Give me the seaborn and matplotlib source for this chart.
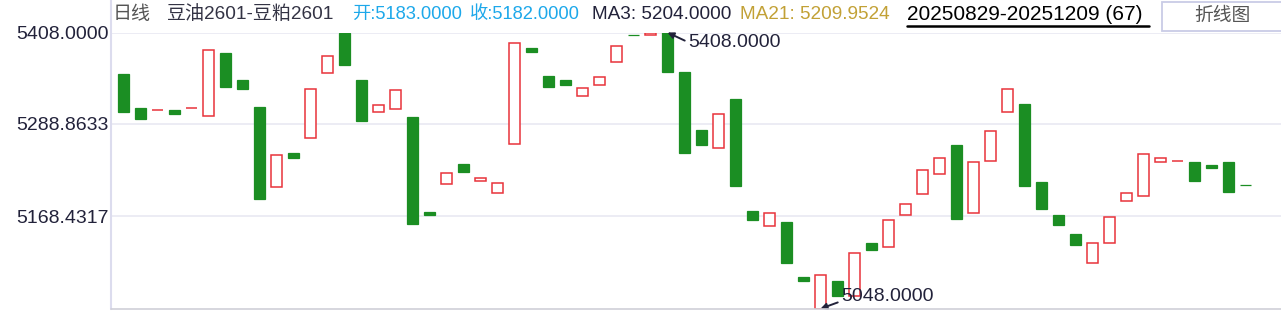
import matplotlib
matplotlib.use("Agg")
import matplotlib.pyplot as plt
import seaborn as sns
import numpy as np
from matplotlib.lines import Line2D
from matplotlib.patches import Rectangle

# ---------------- data ----------------
opens = [5354, 5309, 5307, 5307, 5309, 5299, 5381, 5346, 5311, 5206,
         5251, 5271, 5355, 5407, 5346, 5305, 5308, 5298, 5174, 5210,
         5236, 5214, 5199, 5263, 5388, 5351, 5346, 5325, 5339, 5369,
         5405, 5405, 5408, 5356, 5281, 5257, 5321, 5175, 5156, 5161,
         5089, 5048, 5084, 5065, 5134, 5128, 5170, 5197, 5223, 5261,
         5173, 5241, 5305, 5315, 5213, 5170, 5146, 5108, 5134, 5188,
         5195, 5239, 5240, 5239, 5235, 5239, 5209]
closes = [5305, 5295, 5307, 5302, 5309, 5385, 5337, 5335, 5191, 5248,
          5245, 5335, 5378, 5366, 5293, 5314, 5333, 5158, 5170, 5225,
          5226, 5218, 5212, 5394, 5382, 5337, 5340, 5336, 5350, 5390,
          5405, 5407, 5356, 5251, 5262, 5302, 5208, 5163, 5173, 5107,
          5084, 5092, 5064, 5120, 5125, 5164, 5184, 5229, 5245, 5165,
          5239, 5279, 5335, 5208, 5178, 5157, 5131, 5134, 5168, 5199,
          5249, 5244, 5240, 5215, 5231, 5200, 5209]
# red (rising / doji-red) vs green (falling / doji-green) as drawn
is_red = [False, False, True, False, True, True, False, False, False, True,
          False, True, True, False, False, True, True, False, False, True,
          False, True, True, True, False, False, False, True, True, True,
          False, True, False, False, False, True, False, False, True, False,
          False, True, False, True, False, True, True, True, True, False,
          True, True, True, False, False, False, False, True, True, True,
          True, True, True, False, False, False, False]
ytick_values = [5408.0, 5288.8633, 5168.4317]
y_min, y_max = 5048.0, 5408.0
high_idx, high_val = 32, 5408.0
low_idx, low_val = 41, 5048.0

title_name = "豆油2601-豆粕2601"
open_txt = "开:5183.0000"
close_txt = "收:5182.0000"
ma3_txt = "MA3: 5204.0000"
ma21_txt = "MA21: 5209.9524"
range_txt = "20250829-20251209 (67)"

# ---------------- style ----------------
sns.set_theme(style="white")
FAM = ["Liberation Sans", "Noto Sans CJK SC", "DejaVu Sans"]
plt.rcParams["font.family"] = FAM

W, H = 1281, 312
RED = "#e8333b"
GREEN = "#1b8e23"
GRID = "#e7e7f1"
DARK = "#22223a"

def fx(x):
    return x / W

def fy(y):
    return 1 - y / H

fig = plt.figure(figsize=(W / 100, H / 100), dpi=100)
fig.patch.set_facecolor("white")
ax_left, ax_right, ax_top, ax_bot = 111, 1281, 32.5, 308.7
ax = fig.add_axes([fx(ax_left), fy(ax_bot), (ax_right - ax_left) / W, (ax_bot - ax_top) / H])
ax.set_facecolor("white")

n = len(opens)
idx = np.arange(n)
o = np.array(opens, float)
c = np.array(closes, float)
bottoms = np.minimum(o, c)
heights = np.abs(c - o)
red = np.array(is_red)

# horizontal grid
for v in ytick_values:
    ax.axhline(v, color=GRID, lw=1.1, zorder=0)

bw = 0.70
ax.bar(idx[~red], heights[~red], bottom=bottoms[~red], width=bw,
       color=GREEN, edgecolor=GREEN, linewidth=0.9, zorder=3)
ax.bar(idx[red], heights[red], bottom=bottoms[red], width=bw,
       facecolor="white", edgecolor=RED, linewidth=1.1, zorder=3)

px_per_unit = 17.0
xmin = -(123.5 - ax_left) / px_per_unit
xmax = xmin + (ax_right - ax_left) / px_per_unit
ax.set_xlim(xmin, xmax)
ax.set_ylim(y_min, y_max)
ax.set_xticks([])
ax.set_yticks(ytick_values)
ax.set_yticklabels([f"{v:.4f}" for v in ytick_values])
ax.tick_params(axis="y", length=0, pad=1.5, labelsize=14.0, labelcolor=DARK)
for s in ax.spines.values():
    s.set_visible(False)

# annotations for high / low
units_per_px = (y_max - y_min) / (ax_bot - ax_top)
def xv(px):
    return xmin + (px - ax_left) / px_per_unit
def yv(py):
    return y_max - (py - ax_top) * units_per_px

arrow_kw = dict(arrowstyle="-|>", color=DARK, lw=1.4, mutation_scale=9,
                shrinkA=0, shrinkB=0)
ax.annotate(f"{high_val:.4f}", xy=(high_idx, high_val), xytext=(xv(688), yv(43)),
            ha="left", va="center", fontsize=14.0, color=DARK,
            arrowprops=dict(relpos=(0, 0.55), **arrow_kw), annotation_clip=False, zorder=6)
ax.annotate(f"{low_val:.4f}", xy=(low_idx, low_val), xytext=(xv(841), yv(297)),
            ha="left", va="center", fontsize=14.0, color=DARK,
            arrowprops=dict(relpos=(0, 0.25), **arrow_kw), annotation_clip=False, zorder=6)

# frame lines
fig.add_artist(Line2D([fx(111), fx(111)], [fy(0), fy(309)], color="#dcdcee", lw=1.5))
fig.add_artist(Line2D([fx(111), fx(1281)], [fy(309), fy(309)], color="#cfcfd8", lw=1.2))

# title line
ty = fy(14.5)
fs = 13.7
fig.text(fx(113), ty, "日线", color="#555555", fontsize=fs, va="center", ha="left")
fig.text(fx(167), ty, title_name, color="#333344", fontsize=fs, va="center", ha="left")
fig.text(fx(352), ty, open_txt, color="#1da8ea", fontsize=13.2, va="center", ha="left")
fig.text(fx(470), ty, close_txt, color="#1da8ea", fontsize=13.2, va="center", ha="left")
fig.text(fx(592), ty, ma3_txt, color=DARK, fontsize=fs, va="center", ha="left")
fig.text(fx(740), ty, ma21_txt, color="#c2a136", fontsize=fs, va="center", ha="left")
fig.text(fx(907), ty, range_txt, color="black", fontsize=15.0, va="center", ha="left")
fig.add_artist(Line2D([fx(907), fx(1149)], [fy(25.5), fy(25.5)], color="black", lw=1.8))

# button
fig.add_artist(Rectangle((fx(1162), fy(31)), fx(1300 - 1162), (31 - 2) / H,
                         facecolor="white", edgecolor="#c9cce6", lw=1.3))
fig.text(fx(1222), fy(16.5), "折线图", color="#555555", fontsize=13.5, va="center", ha="center")

fig.savefig("out.png", dpi=100, facecolor="white")
